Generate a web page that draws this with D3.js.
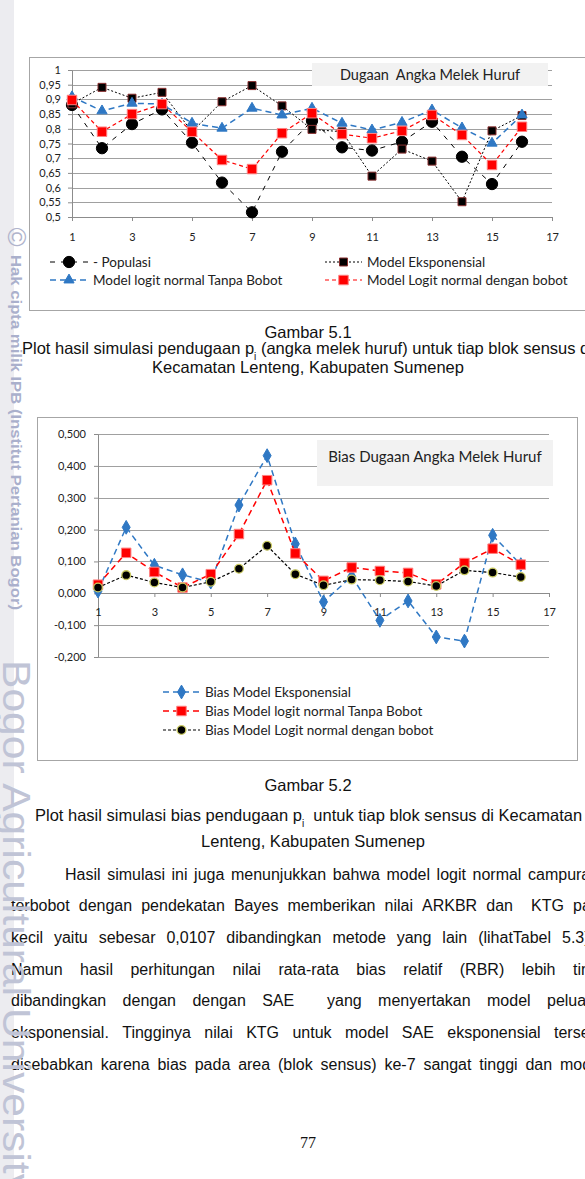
<!DOCTYPE html>
<html><head><meta charset="utf-8">
<script src="https://cdn.jsdelivr.net/npm/d3@7"></script>
<style>html,body{margin:0;padding:0;background:#fff;overflow:hidden;} svg{display:block;} text{white-space:pre;}</style>
</head><body>
<script>
// ---------- DATA ----------
const blocks = [1,2,3,4,5,6,7,8,9,10,11,12,13,14,15,16];
const xTickVals = [1,3,5,7,9,11,13,15,17];

// Chart 1: Dugaan Angka Melek Huruf
const populasi     = [0.881,0.734,0.816,0.866,0.753,0.617,0.516,0.722,0.827,0.737,0.726,0.756,0.824,0.705,0.612,0.756];
const eksponensial = [0.885,0.941,0.904,0.924,0.790,0.892,0.947,0.878,0.798,0.790,0.639,0.731,0.690,0.552,0.793,0.845];
const tanpaBobot   = [0.909,0.861,0.887,0.884,0.819,0.802,0.870,0.847,0.870,0.819,0.796,0.822,0.864,0.803,0.751,0.847];
const denganBobot  = [0.898,0.790,0.850,0.884,0.790,0.694,0.663,0.785,0.853,0.782,0.768,0.793,0.847,0.779,0.677,0.807];
const yTickVals1   = [0.5,0.55,0.6,0.65,0.7,0.75,0.8,0.85,0.9,0.95,1];
const yTickLabels1 = ["0,5","0,55","0,6","0,65","0,7","0,75","0,8","0,85","0,9","0,95","1"];

// Chart 2: Bias Dugaan Angka Melek Huruf
const biasEks    = [0.007,0.207,0.088,0.058,0.035,0.277,0.432,0.155,-0.027,0.053,-0.085,-0.024,-0.137,-0.150,0.182,0.090];
const biasTanpa  = [0.027,0.127,0.067,0.018,0.060,0.186,0.355,0.125,0.039,0.081,0.070,0.064,0.028,0.095,0.140,0.090];
const biasDengan = [0.018,0.057,0.034,0.018,0.036,0.077,0.149,0.060,0.025,0.043,0.041,0.037,0.023,0.072,0.065,0.051];
const yTickVals2   = [-0.2,-0.1,0,0.1,0.2,0.3,0.4,0.5];
const yTickLabels2 = ["-0,200","-0,100","0,000","0,100","0,200","0,300","0,400","0,500"];

// ---------- SETUP ----------
const W = 585, H = 1179;
const svg = d3.select("body").append("svg").attr("width", W).attr("height", H);
svg.append("rect").attr("width", W).attr("height", H).attr("fill", "#fff");

const chartFont = "Lato, 'Open Sans', sans-serif";
const docFont = "'Liberation Sans', Arial, sans-serif";
const gridColor = "#a0a0a0";
const blue = "#2f78c4", red = "#ff0000";

// watermark band
svg.append("rect").attr("x", 0).attr("y", 0).attr("width", 14).attr("height", H).attr("fill", "#ececf0");

function styleAxis(g) {
  g.select(".domain").attr("stroke", "#8c8c8c");
  g.selectAll(".tick line").attr("stroke", "#8c8c8c");
  g.selectAll(".tick text").attr("fill", "#222").style("font-family", chartFont).style("font-size", "11px");
}

function drawSeries(g, xs, ys, values, opt) {
  const line = d3.line().x((d, i) => xs(blocks[i])).y(d => ys(d));
  g.append("path").datum(values).attr("d", line).attr("fill", "none")
    .attr("stroke", opt.color).attr("stroke-width", opt.width).attr("stroke-dasharray", opt.dash);
  g.append("g").selectAll("path").data(values).join("path")
    .attr("transform", (d, i) => `translate(${xs(blocks[i])},${ys(d)})`)
    .attr("d", d3.symbol().type(opt.symbol).size(opt.size))
    .attr("fill", opt.fill).attr("stroke", opt.outline).attr("stroke-width", opt.outlineW || 1);
}

function legendItem(g, x0, x1, y, text, opt) {
  g.append("line").attr("x1", x0).attr("x2", x1).attr("y1", y).attr("y2", y)
    .attr("stroke", opt.color).attr("stroke-width", opt.width).attr("stroke-dasharray", opt.dash);
  g.append("path").attr("transform", `translate(${(x0 + x1) / 2},${y})`)
    .attr("d", d3.symbol().type(opt.symbol).size(opt.size))
    .attr("fill", opt.fill).attr("stroke", opt.outline).attr("stroke-width", opt.outlineW || 1);
  g.append("text").attr("x", x1 + 5).attr("y", y).attr("dy", "0.35em")
    .style("font-family", chartFont).style("font-size", "13.5px").attr("fill", "#222").text(text);
}

// ---------- CHART 1 ----------
const c1 = svg.append("g");
c1.append("rect").attr("x", 29.5).attr("y", 57.5).attr("width", 600).attr("height", 253)
  .attr("fill", "#fff").attr("stroke", "#a6a6a6");
const x1 = d3.scaleLinear().domain([1, 17]).range([72, 552]);
const y1 = d3.scaleLinear().domain([0.5, 1]).range([217, 70]);

c1.append("g").selectAll("line").data(yTickVals1).join("line")
  .attr("x1", x1(1)).attr("x2", x1(17))
  .attr("y1", d => Math.round(y1(d)) + 0.5).attr("y2", d => Math.round(y1(d)) + 0.5)
  .attr("stroke", gridColor);

c1.append("g").attr("transform", `translate(${x1(1)},0)`)
  .call(d3.axisLeft(y1).tickValues(yTickVals1).tickFormat((d, i) => yTickLabels1[i]).tickSize(4).tickSizeOuter(0).tickPadding(7))
  .call(styleAxis);
c1.append("g").attr("transform", `translate(0,${y1(0.5)})`)
  .call(d3.axisBottom(x1).tickValues(xTickVals).tickSize(4).tickSizeOuter(0).tickPadding(12))
  .call(styleAxis);

c1.append("rect").attr("x", 312).attr("y", 63).attr("width", 236).attr("height", 23).attr("fill", "#f2f2f2");
c1.append("text").attr("x", 430).attr("y", 75).attr("dy", "0.35em").attr("text-anchor", "middle")
  .style("font-family", chartFont).style("font-size", "14.5px").attr("fill", "#222").text("Dugaan  Angka Melek Huruf");

const sPop = {color: "#000", width: 1, dash: "5,6", symbol: d3.symbolCircle, size: 100, fill: "#000", outline: "#000"};
const sEks = {color: "#000", width: 1, dash: "2,2", symbol: d3.symbolSquare, size: 64, fill: "#000", outline: "#8a3030"};
const sTan = {color: blue, width: 1.5, dash: "6,4", symbol: d3.symbolTriangle, size: 45, fill: blue, outline: blue};
const sDen = {color: red, width: 1.2, dash: "4,3", symbol: d3.symbolSquare, size: 90, fill: red, outline: "#ff8080"};

drawSeries(c1, x1, y1, populasi, sPop);
drawSeries(c1, x1, y1, eksponensial, sEks);
drawSeries(c1, x1, y1, tanpaBobot, sTan);
drawSeries(c1, x1, y1, denganBobot, sDen);

legendItem(c1, 50, 88, 262, "- Populasi", sPop);
legendItem(c1, 325, 362, 262, "Model Eksponensial", sEks);
legendItem(c1, 50, 88, 280, "Model logit normal Tanpa Bobot", sTan);
legendItem(c1, 325, 362, 280, "Model Logit normal dengan bobot", sDen);

// ---------- CHART 2 ----------
const c2 = svg.append("g");
c2.append("rect").attr("x", 37.5).attr("y", 417.5).attr("width", 540).attr("height", 343)
  .attr("fill", "#fff").attr("stroke", "#a6a6a6");
const x2 = d3.scaleLinear().domain([1, 17]).range([98, 549]);
const y2 = d3.scaleLinear().domain([-0.2, 0.5]).range([657, 434]);

c2.append("g").selectAll("line").data(yTickVals2).join("line")
  .attr("x1", x2(1)).attr("x2", x2(17))
  .attr("y1", d => Math.round(y2(d)) + 0.5).attr("y2", d => Math.round(y2(d)) + 0.5)
  .attr("stroke", gridColor);

c2.append("g").attr("transform", `translate(${x2(1)},0)`)
  .call(d3.axisLeft(y2).tickValues(yTickVals2).tickFormat((d, i) => yTickLabels2[i]).tickSize(4).tickSizeOuter(0).tickPadding(8))
  .call(styleAxis);
c2.append("g").attr("transform", `translate(0,${Math.round(y2(0))})`)
  .call(d3.axisBottom(x2).tickValues(xTickVals).tickSize(4).tickSizeOuter(0).tickPadding(11))
  .call(styleAxis);

c2.append("rect").attr("x", 317).attr("y", 440).attr("width", 236).attr("height", 46).attr("fill", "#f2f2f2");
c2.append("text").attr("x", 435).attr("y", 457).attr("dy", "0.35em").attr("text-anchor", "middle")
  .style("font-family", chartFont).style("font-size", "15px").attr("fill", "#222").text("Bias Dugaan Angka Melek Huruf");

const bEks = {color: blue, width: 1.5, dash: "6,4", symbol: d3.symbolDiamond, size: 55, fill: blue, outline: blue};
const bTan = {color: red, width: 1.5, dash: "6,4", symbol: d3.symbolSquare, size: 90, fill: red, outline: "#ff8080"};
const bDen = {color: "#000", width: 1.2, dash: "3,2", symbol: d3.symbolCircle, size: 60, fill: "#000", outline: "#c8c860", outlineW: 1.3};

drawSeries(c2, x2, y2, biasEks, bEks);
drawSeries(c2, x2, y2, biasTanpa, bTan);
drawSeries(c2, x2, y2, biasDengan, bDen);

legendItem(c2, 163, 200, 692, "Bias Model Eksponensial", bEks);
legendItem(c2, 163, 200, 711, "Bias Model logit normal Tanpa Bobot", bTan);
legendItem(c2, 163, 200, 730, "Bias Model Logit normal dengan bobot", bDen);

// ---------- CAPTIONS ----------
const txt = svg.append("g").attr("fill", "#111").style("font-family", docFont).style("font-size", "16px");
function capText(x, y, anchor, parts) {
  const t = txt.append("text").attr("x", x).attr("y", y).attr("text-anchor", anchor).style("font-size", "16.5px");
  parts.forEach(p => {
    if (typeof p === "string") t.append("tspan").text(p);
    else t.append("tspan").attr("baseline-shift", "sub").style("font-size", "10px").text(p.sub);
  });
  return t;
}
capText(308, 338, "middle", ["Gambar 5.1"]);
capText(22, 354, "start", ["Plot hasil simulasi pendugaan p", {sub: "i"}, " (angka melek huruf) untuk tiap blok sensus di"]);
capText(308, 373, "middle", ["Kecamatan Lenteng, Kabupaten Sumenep"]);
capText(308, 791, "middle", ["Gambar 5.2"]);
capText(35, 821, "start", ["Plot hasil simulasi bias pendugaan p", {sub: "i"}, "  untuk tiap blok sensus di Kecamatan"]);
capText(313, 847, "middle", ["Lenteng, Kabupaten Sumenep"]);

// ---------- PARAGRAPH ----------
const para = [
  {left: 65, last: 528, y: 880, words: ["Hasil","simulasi","ini","juga","menunjukkan","bahwa","model","logit","normal","campuran"]},
  {left: 11, last: 573, y: 911, words: ["terbobot","dengan","pendekatan","Bayes","memberikan","nilai","ARKBR","dan","","KTG","paling"]},
  {left: 11, last: 562, y: 943, words: ["kecil","yaitu","sebesar","0,0107","dibandingkan","metode","yang","lain","(lihatTabel","5.3)."]},
  {left: 11, last: 573, y: 975, words: ["Namun","hasil","perhitungan","nilai","rata-rata","bias","relatif","(RBR)","lebih","tinggi"]},
  {left: 11, last: 547, y: 1006, words: ["dibandingkan","dengan","dengan","SAE","","yang","menyertakan","model","peluang"]},
  {left: 11, last: 554, y: 1038, words: ["eksponensial.","Tingginya","nilai","KTG","untuk","model","SAE","eksponensial","tersebut"]},
  {left: 11, last: 560, y: 1070, words: ["disebabkan","karena","bias","pada","area","(blok","sensus)","ke-7","sangat","tinggi","dan","model"]}
];
para.forEach(L => {
  const ts = L.words.map(w => txt.append("text").attr("y", L.y).text(w));
  const widths = ts.map(t => t.node().getComputedTextLength());
  const n = L.words.length;
  const sum = d3.sum(widths.slice(0, n - 1));
  const gap = (L.last - L.left - sum) / (n - 1);
  let x = L.left;
  ts.forEach((t, i) => { t.attr("x", x); x += widths[i] + gap; });
});
txt.append("text").attr("x", 308).attr("y", 1148).attr("text-anchor", "middle")
  .style("font-family", "'Liberation Serif', serif").text("77");

// ---------- WATERMARK ----------
const wm = svg.append("g");
wm.append("text").attr("transform", "translate(4,237) rotate(90)").attr("text-anchor", "middle")
  .attr("dy", "-0.15em")
  .style("font-family", docFont).style("font-size", "26px").attr("fill", "#b0b4cc").text("©");
wm.append("text").attr("transform", "translate(11,255) rotate(90)")
  .attr("textLength", 355).attr("lengthAdjust", "spacingAndGlyphs")
  .style("font-family", docFont).style("font-size", "15px").style("font-weight", "bold")
  .attr("fill", "#aab0cc").text("Hak cipta milik IPB (Institut Pertanian Bogor)");
wm.append("text").attr("transform", "translate(3,660) rotate(90)")
  .attr("textLength", 535).attr("lengthAdjust", "spacingAndGlyphs")
  .style("font-family", docFont).style("font-size", "38px")
  .attr("fill", "#c0c4d6").text("Bogor Agricultural University");
</script>
</body></html>
